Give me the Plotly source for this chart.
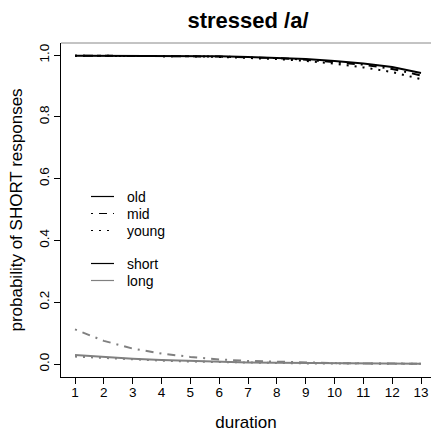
import plotly.graph_objects as go

duration = list(range(1, 14))

short_old = [0.998, 0.998, 0.998, 0.997, 0.997, 0.996, 0.994, 0.991, 0.987, 0.981, 0.973, 0.961, 0.942]
short_mid = [0.998, 0.998, 0.998, 0.997, 0.996, 0.995, 0.993, 0.990, 0.985, 0.978, 0.969, 0.955, 0.934]
short_young = [0.998, 0.998, 0.997, 0.997, 0.996, 0.994, 0.991, 0.987, 0.981, 0.972, 0.960, 0.945, 0.922]

long_old = [0.029, 0.022, 0.017, 0.013, 0.010, 0.007, 0.005, 0.004, 0.003, 0.002, 0.0015, 0.001, 0.001]
long_mid = [0.112, 0.075, 0.050, 0.034, 0.023, 0.015, 0.010, 0.007, 0.005, 0.003, 0.002, 0.0015, 0.001]
long_young = [0.024, 0.019, 0.014, 0.011, 0.008, 0.006, 0.004, 0.003, 0.002, 0.0015, 0.001, 0.001, 0.001]

x_ticks = list(range(1, 14))
y_ticks = [0.0, 0.2, 0.4, 0.6, 0.8, 1.0]
y_tick_text = ["0.0", "0.2", "0.4", "0.6", "0.8", "1.0"]

legend_labels = ["old", "mid", "young", "short", "long"]

BLACK = "#000000"
GREY = "#808080"
DASHDOT = "2px,6px,8px,6px"
DOT = "2px,6px"
FONT = "Liberation Sans, Arial, sans-serif"

W, H = 431, 432
L, R, T, B = 61, 0, 43, 55
PW, PH = W - L - R, H - T - B

fig = go.Figure()

series = [
    (short_old, BLACK, "solid"),
    (short_mid, BLACK, DASHDOT),
    (short_young, BLACK, DOT),
    (long_old, GREY, "solid"),
    (long_mid, GREY, DASHDOT),
    (long_young, GREY, DOT),
]
for ys, col, dash in series:
    fig.add_trace(go.Scatter(x=duration, y=ys, mode="lines",
                             line=dict(color=col, width=2, dash=dash),
                             showlegend=False, hoverinfo="skip"))

# manual legend (R-style, no box)
legend_styles = [(BLACK, "solid"), (BLACK, DASHDOT), (BLACK, DOT), (BLACK, "solid"), (GREY, "solid")]
legend_rows_px = [196, 213, 230, 263, 280]
shapes = [dict(type="line", xref="paper", yref="paper", x0=0, x1=1, y0=1, y1=1,
               line=dict(color="#888888", width=1))]
annotations = []
for lab, (col, dash), ypx in zip(legend_labels, legend_styles, legend_rows_px):
    yp = 1 - (ypx - T + 0.5) / PH
    shapes.append(dict(type="line", xref="paper", yref="paper",
                       x0=(91 - L) / PW, x1=(114 - L) / PW, y0=yp, y1=yp,
                       line=dict(color=col, width=1.2, dash=dash)))
    annotations.append(dict(text=lab, xref="paper", yref="paper", x=(125 - L) / PW, y=yp,
                            xanchor="left", yanchor="middle", showarrow=False,
                            font=dict(size=14, family=FONT, color="black")))

fig.update_layout(
    width=W, height=H,
    margin=dict(l=L, r=R, t=T, b=B, autoexpand=False),
    paper_bgcolor="white", plot_bgcolor="white",
    font=dict(family=FONT, size=14, color="black"),
    showlegend=False,
    title=dict(text="<b>stressed /a/</b>", x=248/W, xanchor="center",
               y=1 - 20/H, yanchor="middle", font=dict(size=22, family=FONT)),
    xaxis=dict(range=[0.514, 13.347], tickvals=x_ticks, ticks="outside", ticklen=6,
               tickcolor="black", showline=True, linecolor="black", linewidth=1,
               showgrid=False, zeroline=False, ticklabelstandoff=-3, automargin=False,
               tickfont=dict(size=13.5),
               title=dict(text="duration", standoff=19), fixedrange=True),
    yaxis=dict(range=[-0.042, 1.039], tickvals=y_ticks, ticktext=y_tick_text,
               ticks="outside", ticklen=6, tickcolor="black", tickangle=-90,
               showline=True, linecolor="black", linewidth=1, showgrid=False,
               zeroline=False, ticklabelstandoff=0, automargin=False,
               tickfont=dict(size=13.5),
               title=dict(text="probability of SHORT responses", standoff=9),
               fixedrange=True),
    shapes=shapes,
    annotations=annotations,
)

fig.write_html("out.html", post_script="document.body.style.margin='0';",
               config={"displayModeBar": False, "staticPlot": True})
